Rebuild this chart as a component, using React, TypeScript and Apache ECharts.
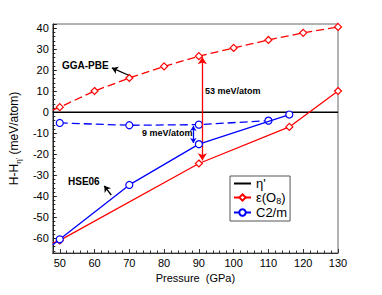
import React, { useEffect, useRef } from "react";
import * as echarts from "echarts";

// GGA-PBE, epsilon(O8) (red dashed)
const pressureEpsGGA = [48, 50, 60, 70, 80, 90, 100, 110, 120, 130];
const epsGGA = [1.0, 2.4, 10.1, 16.3, 21.8, 26.7, 30.6, 34.4, 37.8, 40.6];
// GGA-PBE, C2/m (blue dashed)
const pressureC2mGGA = [50, 70, 90, 110];
const c2mGGA = [-5.1, -6.2, -5.9, -4.0];
// HSE06, epsilon(O8) (red solid)
const pressureEpsHSE = [48, 50, 90, 116, 130];
const epsHSE = [-62.3, -61.0, -24.4, -7.0, 10.1];
// HSE06, C2/m (blue solid)
const pressureC2mHSE = [48, 50, 70, 90, 116];
const c2mHSE = [-63.1, -60.5, -34.6, -15.2, -1.1];
// eta' reference
const pressureEta = [48, 130];
const eta = [0, 0];

// annotation arrows (data coordinates)
const arrow53 = [[91, -22.9], [91, 26.2]];
const arrow9 = [[88.4, -6.5], [88.4, -14.6]];
const arrowGGA = [[69.8, 17.6], [65.0, 21.1]];
const arrowHSE = [[64.8, -39.4], [62.8, -35.0]];

const legendNames = ["η'", "ε(O8)", "C2/m"];

const FONT = "Liberation Sans, Arial, Helvetica, sans-serif";
const RED = "#ff0000";
const BLUE = "#0000ff";

function pts(xs: number[], ys: number[]) {
  return xs.map((x, i) =>
    x === 48 ? { value: [x, ys[i]], symbol: "none" } : [x, ys[i]]
  );
}

export default function App() {
  const ref = useRef<HTMLDivElement>(null);
  useEffect(() => {
    if (!ref.current) return;
    const chart = echarts.init(ref.current, undefined, { renderer: "svg" });
    const mkArrow = (a: number[][], color: string, symbols: string[], size = 6) => ({
      silent: true,
      symbol: symbols,
      symbolSize: size,
      animation: false,
      label: { show: false },
      lineStyle: { color, type: "solid", width: 1.3 },
      emphasis: { disabled: true },
      data: [[{ coord: a[0] }, { coord: a[1] }]],
    });
    const option: any = {
      animation: false,
      backgroundColor: "#ffffff",
      textStyle: { fontFamily: FONT },
      grid: {
        left: 47.5,
        right: 44,
        top: 24,
        bottom: 42,
        show: true,
        borderColor: "#666",
        borderWidth: 1,
        backgroundColor: "transparent",
      },
      xAxis: {
        type: "value",
        min: 48,
        max: 130,
        minInterval: 10,
        maxInterval: 10,
        splitNumber: 8,
        name: "Pressure  (GPa)",
        nameLocation: "middle",
        nameGap: 15,
        nameTextStyle: { fontSize: 11, color: "#000", fontFamily: FONT, verticalAlign: "top" },
        axisLine: { onZero: false, lineStyle: { color: "#333", width: 1 } },
        axisTick: { inside: true, length: 4, lineStyle: { color: "#333" } },
        minorTick: { show: true, splitNumber: 5, length: 2.5, lineStyle: { color: "#333" } },
        splitLine: { show: false },
        axisLabel: { fontSize: 11, color: "#000", margin: 4, showMinLabel: false, fontFamily: FONT },
      },
      yAxis: {
        type: "value",
        min: -67,
        max: 42,
        minInterval: 10,
        maxInterval: 10,
        splitNumber: 10,
        name: "{a|H-H}{s|η'}{a| (meV/atom)}",
        nameLocation: "middle",
        nameRotate: 90,
        nameGap: 27,
        nameTextStyle: {
          fontFamily: FONT,
          color: "#000",
          rich: {
            a: { fontSize: 12, lineHeight: 16, color: "#000", fontFamily: FONT },
            s: { fontSize: 8, lineHeight: 8, verticalAlign: "bottom", color: "#000", fontFamily: FONT },
          },
        },
        axisLine: { onZero: false, lineStyle: { color: "#222", width: 1 } },
        axisTick: { inside: true, length: 4, lineStyle: { color: "#222" } },
        minorTick: { show: true, splitNumber: 5, length: 2.5, lineStyle: { color: "#222" } },
        splitLine: { show: false },
        axisLabel: {
          fontSize: 11,
          color: "#000",
          margin: 4,
          showMinLabel: false,
          showMaxLabel: false,
          fontFamily: FONT,
        },
      },
      legend: {
        data: [
          { name: legendNames[0], itemStyle: { color: "transparent", borderColor: "transparent", borderWidth: 0, opacity: 0 } },
          { name: legendNames[1] },
          { name: legendNames[2] },
        ],
        orient: "vertical",
        left: 230,
        top: 176,
        padding: [1, 3, 2, 3],
        itemGap: 1,
        itemWidth: 17,
        itemHeight: 8,
        borderColor: "#555",
        borderWidth: 1,
        backgroundColor: "#fff",
        selectedMode: false,
        textStyle: {
          fontSize: 13,
          color: "#000",
          fontFamily: FONT,
          rich: {
            a: { fontSize: 13, lineHeight: 15, color: "#000", fontFamily: FONT },
            s: { fontSize: 9, lineHeight: 9, verticalAlign: "bottom", color: "#000", fontFamily: FONT },
          },
        },
        formatter: (name: string) =>
          name === "ε(O8)" ? "{a|ε(O}{s|8}{a|)}" : "{a|" + name + "}",
      },
      graphic: [
        { type: "text", left: 62, top: 60, style: { text: "GGA-PBE", font: "bold 10px " + FONT, fill: "#000" }, silent: true },
        { type: "text", left: 68, top: 176, style: { text: "HSE06", font: "bold 10px " + FONT, fill: "#000" }, silent: true },
        { type: "text", left: 205, top: 86, style: { text: "53 meV/atom", font: "bold 9px " + FONT, fill: "#000" }, silent: true },
        { type: "text", left: 142, top: 128, style: { text: "9 meV/atom", font: "bold 9px " + FONT, fill: "#000" }, silent: true },
      ],
      series: [
        {
          name: "η'",
          type: "line",
          data: pts(pressureEta, eta),
          symbol: "none",
          lineStyle: { color: "#000", width: 1.5 },
          itemStyle: { color: "#000" },
          z: 1,
          markLine: {
            ...mkArrow(arrowGGA, "#000", ["none", "arrow"], 6),
            data: [
              [{ coord: arrowGGA[0] }, { coord: arrowGGA[1] }],
              [{ coord: arrowHSE[0] }, { coord: arrowHSE[1] }],
            ],
          },
        },
        {
          name: "GGA ε(O8)",
          type: "line",
          data: pts(pressureEpsGGA, epsGGA),
          symbol: "diamond",
          symbolSize: 7,
          lineStyle: { color: RED, width: 1.3, type: [8, 4] },
          itemStyle: { color: "#fff", borderColor: RED, borderWidth: 1.2 },
          z: 2,
        },
        {
          name: "GGA C2/m",
          type: "line",
          data: pts(pressureC2mGGA, c2mGGA),
          symbol: "circle",
          symbolSize: 7,
          lineStyle: { color: BLUE, width: 1.3, type: [8, 4] },
          itemStyle: { color: "#fff", borderColor: BLUE, borderWidth: 1.2 },
          z: 3,
        },
        {
          name: "ε(O8)",
          type: "line",
          data: pts(pressureEpsHSE, epsHSE),
          symbol: "diamond",
          symbolSize: 7,
          lineStyle: { color: RED, width: 1.3 },
          itemStyle: { color: "#fff", borderColor: RED, borderWidth: 1.2 },
          z: 4,
          markLine: mkArrow(arrow53, RED, ["arrow", "arrow"], 7),
        },
        {
          name: "C2/m",
          type: "line",
          data: pts(pressureC2mHSE, c2mHSE),
          symbol: "circle",
          symbolSize: 7,
          lineStyle: { color: BLUE, width: 1.3 },
          itemStyle: { color: "#fff", borderColor: BLUE, borderWidth: 1.2 },
          z: 5,
          markLine: mkArrow(arrow9, BLUE, ["arrow", "arrow"], 5),
        },
      ],
    };
    chart.setOption(option);
    return () => chart.dispose();
  }, []);
  return (
    <div
      ref={ref}
      style={{ position: "fixed", left: 0, top: 0, width: 382, height: 295, background: "#fff" }}
    />
  );
}
